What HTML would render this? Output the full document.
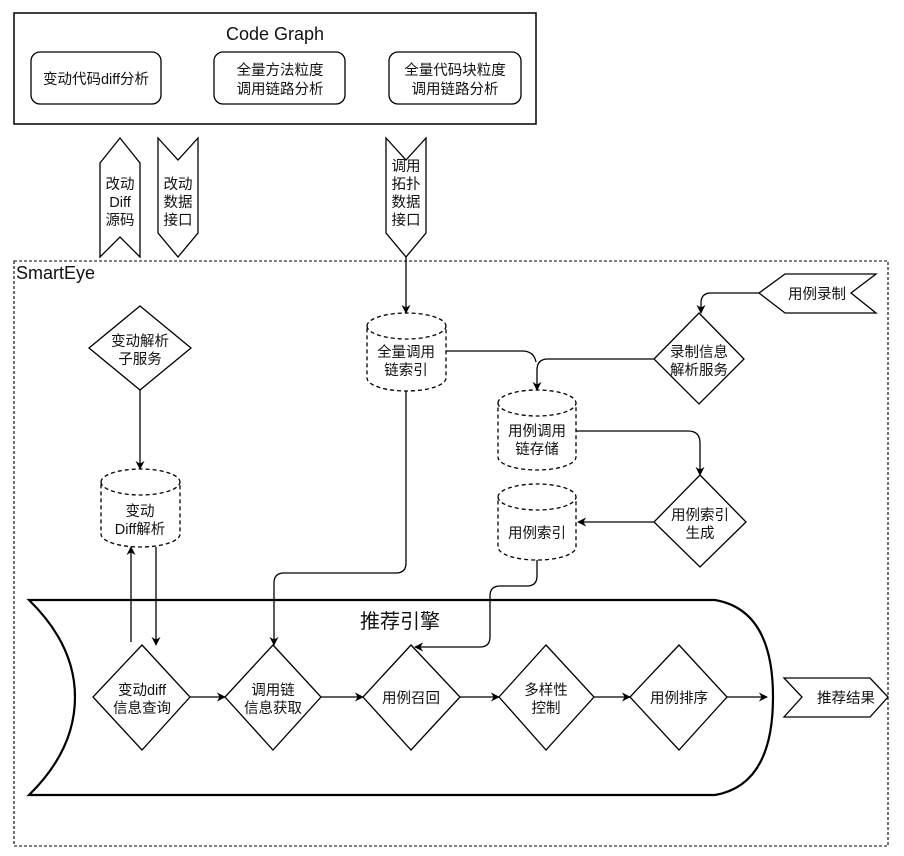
<!DOCTYPE html>
<html><head><meta charset="utf-8"><style>
html,body{margin:0;padding:0;background:#fff;}
svg{display:block;font-family:"Liberation Sans","Noto Sans CJK SC",sans-serif;}
text{fill:#111;font-size:14.5px;text-anchor:middle;}
</style></head><body>
<svg width="904" height="856" viewBox="0 0 904 856" xmlns="http://www.w3.org/2000/svg">
<defs>
<marker id="a" viewBox="0 0 10 10" refX="9" refY="5" markerWidth="9" markerHeight="9" orient="auto" markerUnits="userSpaceOnUse">
<path d="M0,0 L10,5 L0,10 L3,5 z" fill="#000"/></marker>
</defs>
<g fill="none" stroke="#000" stroke-width="1.3">
<rect x="14" y="13" width="522" height="111" stroke-width="1.5"/>
<rect x="31" y="52" width="130" height="52" rx="9"/>
<rect x="214" y="52" width="131" height="52" rx="9"/>
<rect x="389" y="52" width="132" height="52" rx="9"/>
<polygon points="100,163 120,138 140,163 140,257 120,237 100,257"/>
<polygon points="158,138 178,160 198,138 198,233 178,257 158,233"/>
<polygon points="386,138 406,160 426,138 426,233 406,257 386,233"/>
<rect x="14" y="261" width="874" height="585" stroke-dasharray="3,2" stroke-width="1.1"/>
<polygon points="759,293 785,274 876,274 851,293 876,313 785,313"/>
<polygon points="140,306 191,348 140,390 89,348"/>
<polygon points="699,313 744,359 699,404 654,359"/>
<polygon points="700,475 746,522 700,567 654,522"/>
<g stroke-dasharray="4,3">
<path d="M367,326 A39.5,13 0 0 1 446,326 L446,378 A39.5,13 0 0 1 367,378 Z M367,326 A39.5,13 0 0 0 446,326"/>
<path d="M498,403 A39,13 0 0 1 576,403 L576,457 A39,13 0 0 1 498,457 Z M498,403 A39,13 0 0 0 576,403"/>
<path d="M498,497 A39,13 0 0 1 576,497 L576,547 A39,13 0 0 1 498,547 Z M498,497 A39,13 0 0 0 576,497"/>
<path d="M101,482 A39.5,13 0 0 1 180,482 L180,534 A39.5,13 0 0 1 101,534 Z M101,482 A39.5,13 0 0 0 180,482"/>
</g>
<path d="M406,257 L406,313" marker-end="url(#a)"/>
<path d="M759,293 L711,293 Q701,293 701,303 L701,313" marker-end="url(#a)"/>
<path d="M654,359 L548,359 Q537,359 537,370 L537,390" marker-end="url(#a)"/>
<path d="M446,351 L522,351 Q534,351 536,362"/>
<path d="M576,431 L688,431 Q700,431 700,443 L700,475" marker-end="url(#a)"/>
<path d="M654,522 L578,522" marker-end="url(#a)"/>
<path d="M140,390 L140,469" marker-end="url(#a)"/>
<path d="M406,391 L406,563 Q406,573 396,573 L284,573 Q274,573 274,583 L274,645" marker-end="url(#a)"/>
<path d="M537,560 L537,576 Q537,586 527,586 L500,586 Q490,586 490,596 L490,637 Q490,647 480,647 L415,647" marker-end="url(#a)"/>
<path d="M131,642 L131,547" marker-end="url(#a)"/>
<path d="M156,547 L156,645" marker-end="url(#a)"/>
<path d="M29,600 L715,600 Q773,610 773,697 Q773,785 715,795 L29,795 Q75,750 75,697 Q75,645 29,600 Z" stroke-width="2.2"/>
<polygon points="142,645 190,697 142,750 93,697"/>
<polygon points="273,645 321,697 273,750 225,697"/>
<polygon points="411,645 460,697 411,750 363,697"/>
<polygon points="546,645 594,697 546,750 499,697"/>
<polygon points="679,645 727,697 679,750 630,697"/>
<path d="M190,697 L225,697" marker-end="url(#a)"/>
<path d="M321,697 L363,697" marker-end="url(#a)"/>
<path d="M460,697 L499,697" marker-end="url(#a)"/>
<path d="M594,697 L630,697" marker-end="url(#a)"/>
<path d="M727,697 L767,697" marker-end="url(#a)"/>
<polygon points="784,678 870,678 888,697 870,717 784,717 802,697"/>
</g>
<text x="275" y="40" style="font-size:18px">Code Graph</text>
<text x="96" y="84">变动代码diff分析</text>
<text x="280" y="75">全量方法粒度</text><text x="280" y="94">调用链路分析</text>
<text x="455" y="75">全量代码块粒度</text><text x="455" y="94">调用链路分析</text>
<text x="120" y="189">改动</text><text x="120" y="207">Diff</text><text x="120" y="225">源码</text>
<text x="178" y="189">改动</text><text x="178" y="207">数据</text><text x="178" y="225">接口</text>
<text x="406" y="171">调用</text><text x="406" y="189">拓扑</text><text x="406" y="207">数据</text><text x="406" y="225">接口</text>
<text x="16" y="279" style="text-anchor:start;font-size:18px">SmartEye</text>
<text x="817" y="299">用例录制</text>
<text x="140" y="346">变动解析</text><text x="140" y="364">子服务</text>
<text x="699" y="357">录制信息</text><text x="699" y="375">解析服务</text>
<text x="700" y="520">用例索引</text><text x="700" y="538">生成</text>
<text x="406" y="357">全量调用</text><text x="406" y="375">链索引</text>
<text x="537" y="436">用例调用</text><text x="537" y="454">链存储</text>
<text x="537" y="538">用例索引</text>
<text x="140" y="516">变动</text><text x="140" y="534">Diff解析</text>
<text x="400" y="628" style="font-size:20px">推荐引擎</text>
<text x="142" y="695">变动diff</text><text x="142" y="713">信息查询</text>
<text x="273" y="695">调用链</text><text x="273" y="713">信息获取</text>
<text x="411" y="703">用例召回</text>
<text x="546" y="695">多样性</text><text x="546" y="713">控制</text>
<text x="679" y="703">用例排序</text>
<text x="846" y="703">推荐结果</text>
</svg>
</body></html>
